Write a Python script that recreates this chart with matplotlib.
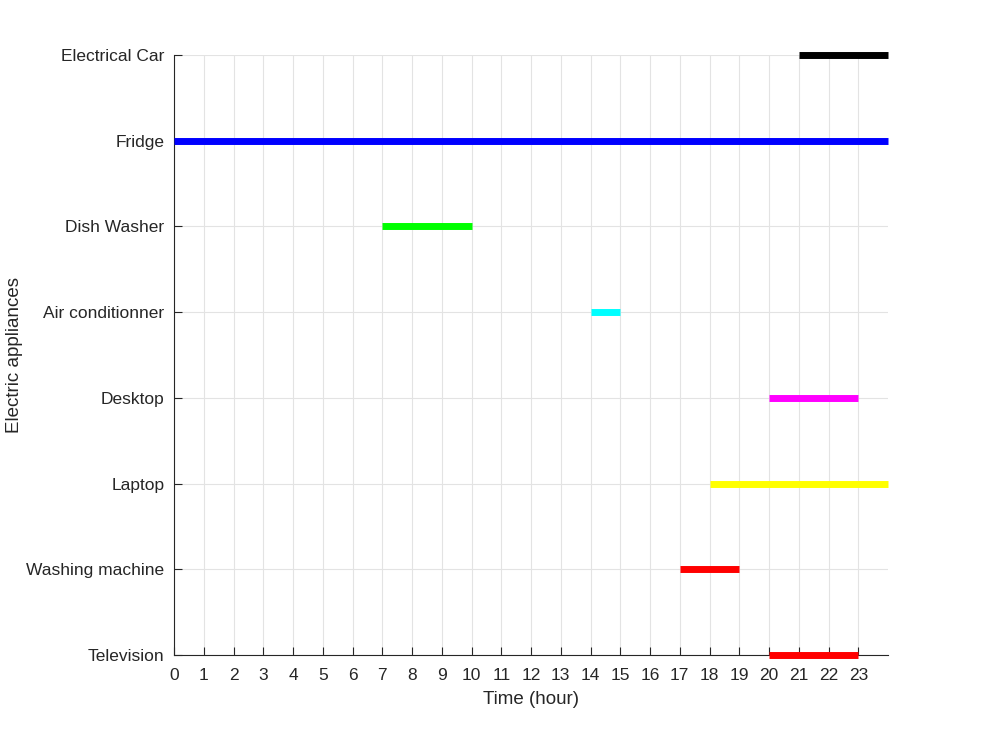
import numpy as np
import matplotlib
matplotlib.use("Agg")
import matplotlib.pyplot as plt

plt.rcParams['font.family'] = ['Liberation Sans', 'DejaVu Sans']

# appliances from bottom to top
appliances = ["Television", "Washing machine", "Laptop", "Desktop",
              "Air conditionner", "Dish Washer", "Fridge", "Electrical Car"]
start_hour = [20, 17, 18, 20, 14, 7, 0, 21]
end_hour = [23, 19, 24, 23, 15, 10, 24, 24]
colors = ["#ff0000", "#ff0000", "#ffff00", "#ff00ff",
          "#00ffff", "#00ff00", "#0000ff", "#000000"]
hours = list(range(24))

fig = plt.figure(figsize=(9.81, 7.36), dpi=100)
ax = fig.add_axes([0.1774, 0.110, 0.7278, 0.8153])

txt = "#262626"
for i, name in enumerate(appliances):
    ax.plot([start_hour[i], end_hour[i]], [i + 1, i + 1], color=colors[i],
            linewidth=5.0, solid_capstyle="butt", zorder=3, clip_on=False)

ax.set_xlim(0, 24)
ax.set_ylim(1, len(appliances))
ax.set_xticks(hours)
ax.set_xticklabels([str(h) for h in hours])
ax.set_yticks(range(1, len(appliances) + 1))
ax.set_yticklabels(appliances)

ax.grid(True, color="#e3e3e3", linewidth=0.8)
ax.set_axisbelow(True)
ax.spines["top"].set_visible(False)
ax.spines["right"].set_visible(False)
for s in ("left", "bottom"):
    ax.spines[s].set_color(txt)
    ax.spines[s].set_linewidth(0.8)
ax.tick_params(direction="in", length=6, width=0.8, colors=txt,
               labelsize=12.5)
ax.tick_params(axis="x", pad=9)
ax.tick_params(axis="y", pad=7)

ax.set_xlabel("Time (hour)", fontsize=13.5, color=txt, labelpad=6)
ax.set_ylabel("Electric appliances", fontsize=13.5, color=txt)
ax.yaxis.set_label_coords(-0.211, 0.5)

fig.savefig("out.png", dpi=100)
